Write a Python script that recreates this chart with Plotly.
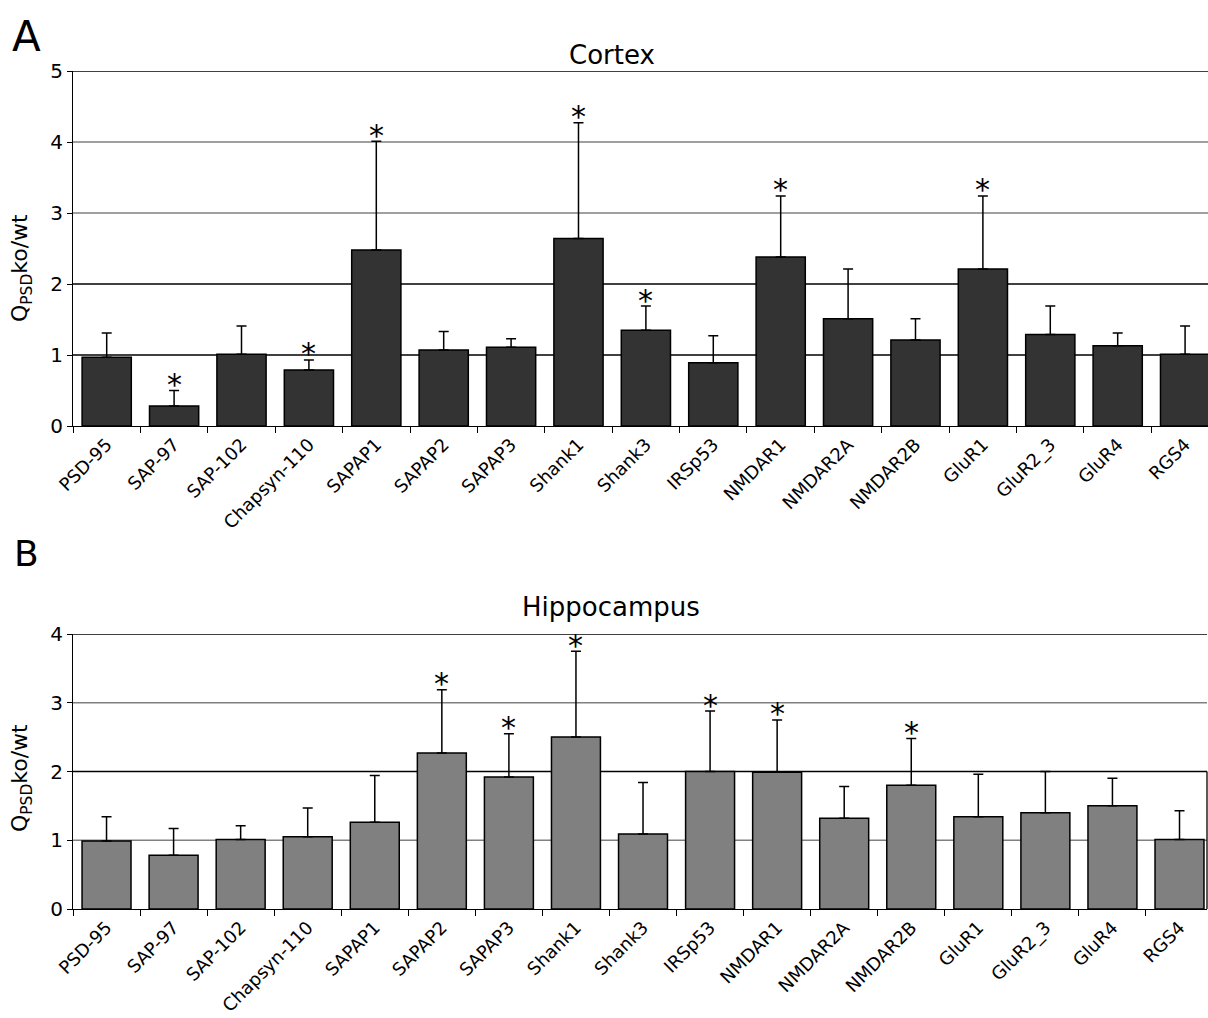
import plotly.graph_objects as go

# Proteins quantified in the PSD fraction
proteins = ["PSD-95", "SAP-97", "SAP-102", "Chapsyn-110", "SAPAP1", "SAPAP2",
            "SAPAP3", "Shank1", "Shank3", "IRSp53", "NMDAR1", "NMDAR2A",
            "NMDAR2B", "GluR1", "GluR2_3", "GluR4", "RGS4"]

# Cortex: ko/wt ratio, upper error and significance
cortex_mean = [0.97, 0.28, 1.01, 0.79, 2.48, 1.07, 1.11, 2.64, 1.35, 0.89,
               2.38, 1.51, 1.21, 2.21, 1.29, 1.13, 1.01]
cortex_err = [0.34, 0.22, 0.40, 0.14, 1.53, 0.26, 0.12, 1.63, 0.34, 0.38,
              0.86, 0.70, 0.30, 1.03, 0.40, 0.18, 0.40]
cortex_sig = ["SAP-97", "Chapsyn-110", "SAPAP1", "Shank1", "Shank3",
              "NMDAR1", "GluR1"]

# Hippocampus: ko/wt ratio, upper error and significance
hippo_mean = [0.99, 0.78, 1.01, 1.05, 1.26, 2.27, 1.92, 2.50, 1.09, 2.00,
              1.99, 1.32, 1.80, 1.34, 1.40, 1.50, 1.01]
hippo_err = [0.35, 0.39, 0.20, 0.42, 0.68, 0.92, 0.63, 1.25, 0.75, 0.88,
             0.76, 0.46, 0.68, 0.62, 0.60, 0.40, 0.42]
hippo_sig = ["SAPAP2", "SAPAP3", "Shank1", "IRSp53", "NMDAR1", "NMDAR2B"]

cortex_ticks = [0, 1, 2, 3, 4, 5]
hippo_ticks = [0, 1, 2, 3, 4]

W, H = 1208, 1018
FONT = "DejaVu Sans"


def px_x(p):
    return p / W


def px_y(p):
    return 1 - p / H


fig = go.Figure()

fig.add_trace(go.Bar(
    x=proteins, y=cortex_mean, xaxis="x", yaxis="y",
    marker=dict(color="#333333", line=dict(color="black", width=1.5)),
    error_y=dict(type="data", array=cortex_err, arrayminus=[0] * len(cortex_err),
                 symmetric=False, color="black", thickness=1.5, width=5),
    showlegend=False,
))
fig.add_trace(go.Bar(
    x=proteins, y=hippo_mean, xaxis="x2", yaxis="y2",
    marker=dict(color="#808080", line=dict(color="black", width=1.5)),
    error_y=dict(type="data", array=hippo_err, arrayminus=[0] * len(hippo_err),
                 symmetric=False, color="black", thickness=1.5, width=5),
    showlegend=False,
))

xcommon = dict(
    type="category", showgrid=False, showline=True, linecolor="black", linewidth=1,
    ticks="outside", tickson="boundaries", ticklen=6, tickcolor="black",
    tickangle=-45, tickfont=dict(family=FONT, size=18, color="black"),
    zeroline=False, automargin=False,
)
ycommon = dict(
    showgrid=False, showline=True, linecolor="black", linewidth=1,
    ticks="outside", ticklen=5, tickcolor="black", zeroline=False,
    tickfont=dict(family=FONT, size=20, color="black"), automargin=False,
)

fig.update_layout(
    width=W, height=H,
    margin=dict(l=0, r=0, t=0, b=0, autoexpand=False),
    paper_bgcolor="white", plot_bgcolor="white",
    bargap=0.27,
    font=dict(family=FONT, color="black"),
    xaxis=dict(xcommon, domain=[px_x(73), 1], range=[-0.5, 16.34], anchor="y"),
    yaxis=dict(ycommon, domain=[px_y(426), px_y(71)], range=[0, 5],
               tickvals=cortex_ticks, anchor="x"),
    xaxis2=dict(xcommon, domain=[px_x(73), px_x(1207)], range=[-0.5, 16.41], anchor="y2"),
    yaxis2=dict(ycommon, domain=[px_y(909), px_y(634)], range=[0, 4],
                tickvals=hippo_ticks, anchor="x2"),
)

# Horizontal gridlines, some printed darker than others
grid_styles = [
    ("y", 1, "black"), ("y", 2, "black"), ("y", 3, "#808080"), ("y", 4, "#808080"),
    ("y", 5, "black"),
    ("y2", 1, "#808080"), ("y2", 2, "black"), ("y2", 3, "#808080"), ("y2", 4, "black"),
]
shapes = []
for yref, yv, col in grid_styles:
    xref = "x domain" if yref == "y" else "x2 domain"
    shapes.append(dict(type="line", xref=xref, yref=yref, x0=0, x1=1, y0=yv, y1=yv,
                       line=dict(color=col, width=1.3), layer="below"))
# right frame edge of the lower chart
shapes.append(dict(type="line", xref="x2 domain", yref="y2", x0=1, x1=1, y0=0, y1=2,
                   line=dict(color="black", width=1.3), layer="below"))
fig.update_layout(shapes=shapes)

annotations = []
# significance stars above the error bars
for names, means, errs, xr, yr in [
    (cortex_sig, cortex_mean, cortex_err, "x", "y"),
    (hippo_sig, hippo_mean, hippo_err, "x2", "y2"),
]:
    for n in names:
        i = proteins.index(n)
        annotations.append(dict(
            x=n, y=means[i] + errs[i], xref=xr, yref=yr, text="*",
            showarrow=False, yanchor="middle", yshift=6,
            font=dict(family=FONT, size=30, color="black"),
        ))

# panel titles
annotations.append(dict(x=px_x(612), y=px_y(55), xref="paper", yref="paper",
                        text="Cortex", showarrow=False, xanchor="center", yanchor="middle",
                        font=dict(family=FONT, size=26)))
annotations.append(dict(x=px_x(611), y=px_y(607), xref="paper", yref="paper",
                        text="Hippocampus", showarrow=False, xanchor="center",
                        yanchor="middle", font=dict(family=FONT, size=26)))
# panel letters
annotations.append(dict(x=px_x(26), y=px_y(36), xref="paper", yref="paper",
                        text="A", showarrow=False, xanchor="center", yanchor="middle",
                        font=dict(family=FONT, size=42)))
annotations.append(dict(x=px_x(26), y=px_y(553), xref="paper", yref="paper",
                        text="B", showarrow=False, xanchor="center", yanchor="middle",
                        font=dict(family=FONT, size=36)))
# y-axis titles
for yc in (268, 778):
    annotations.append(dict(x=px_x(21), y=px_y(yc), xref="paper", yref="paper",
                            text="Q<sub>PSD</sub>ko/wt", showarrow=False, textangle=-90,
                            xanchor="center", yanchor="middle",
                            font=dict(family=FONT, size=22)))
fig.update_layout(annotations=annotations)

fig.write_html("out.html")
